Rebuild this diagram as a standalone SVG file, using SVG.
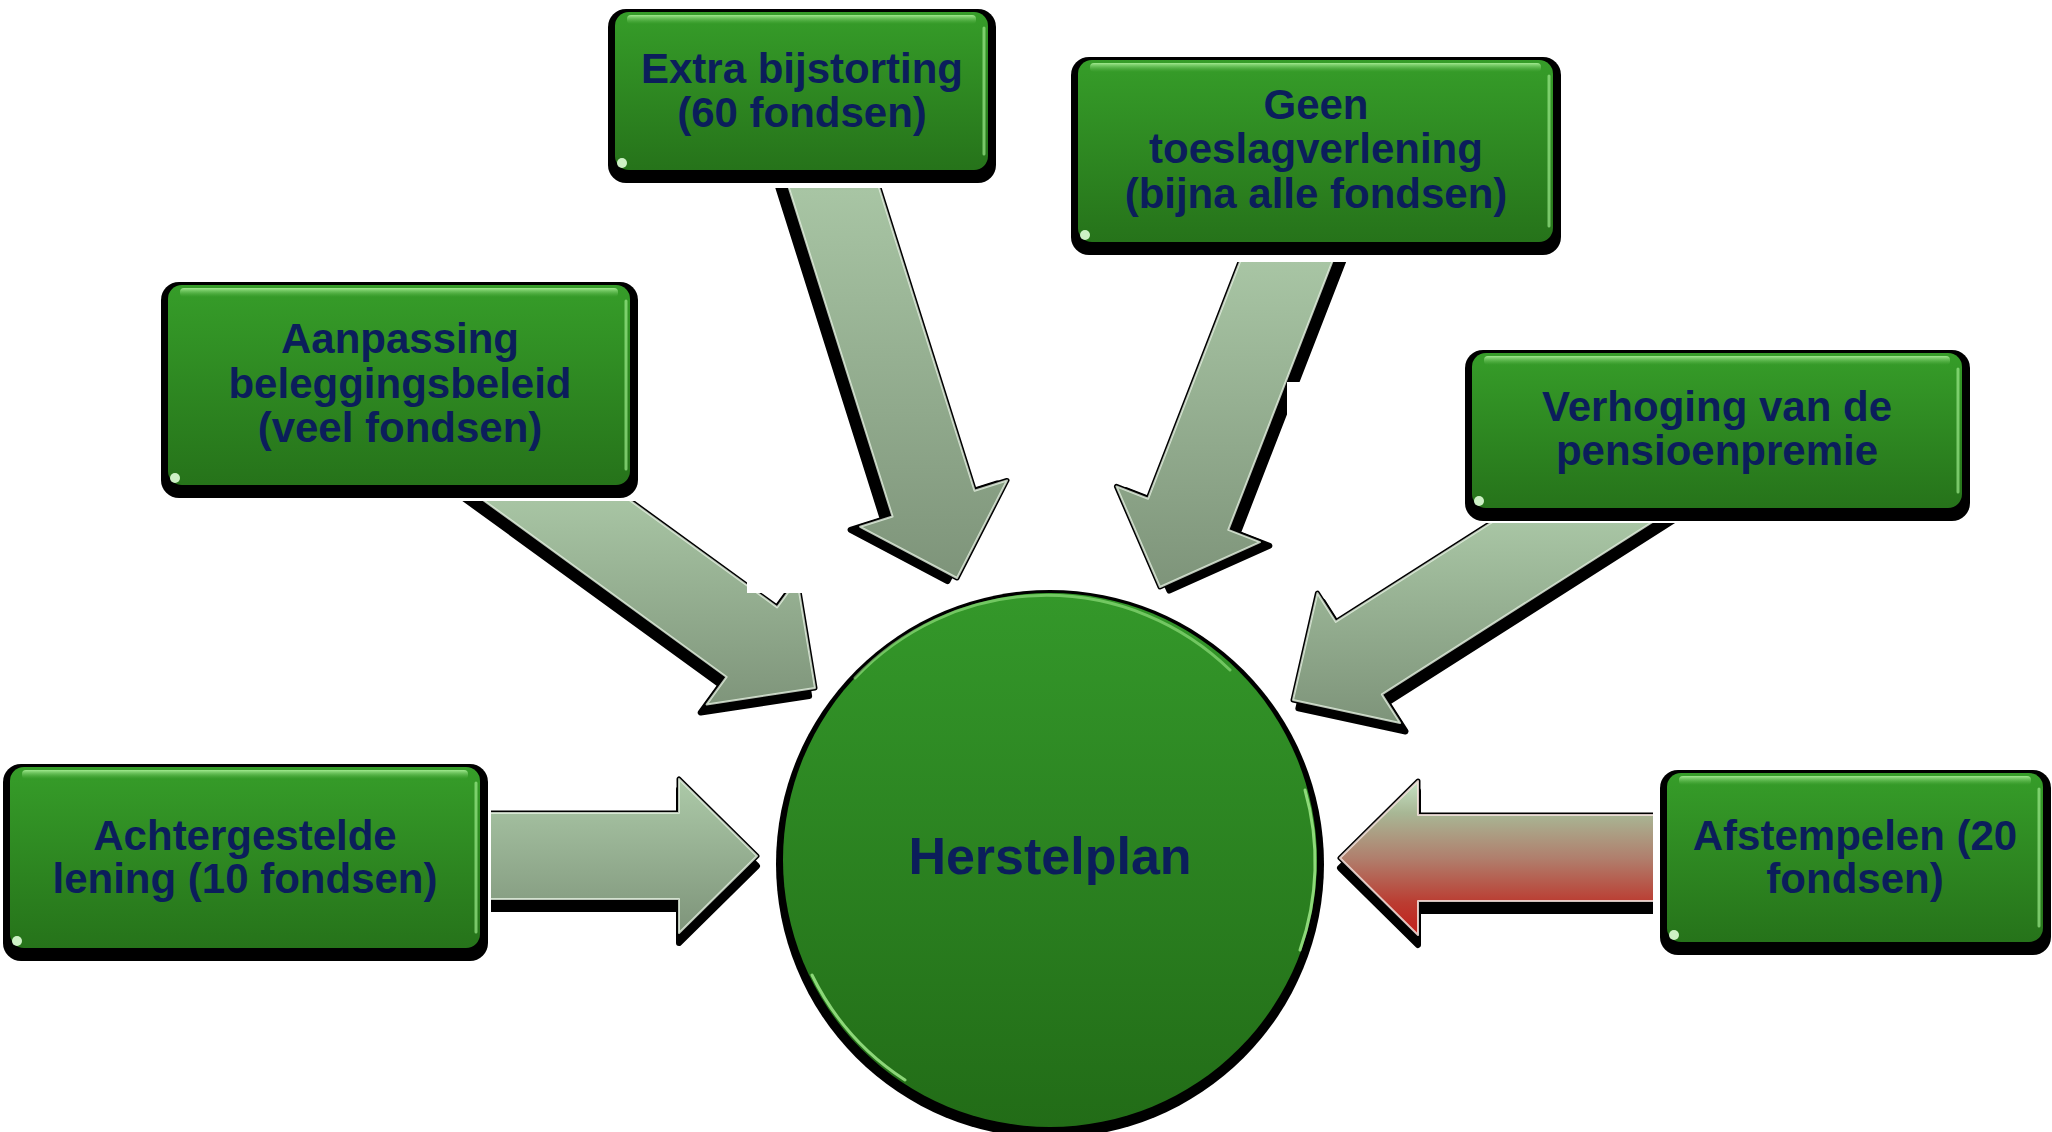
<svg xmlns="http://www.w3.org/2000/svg" width="2052" height="1132" viewBox="0 0 2052 1132">
<style>
.bs{fill:#000}
.bx{fill:url(#gBox)}
.ht{fill:url(#gHi)}
.hr{stroke:#9be88a;stroke-width:3;stroke-linecap:round;opacity:.7;fill:none}
.dot{fill:#e0ffd8;opacity:.9}
.t{font-family:"Liberation Sans",Arial,sans-serif;font-weight:bold;font-size:42px;fill:#0b1e5b;text-anchor:middle}
.big{font-size:52px}
.ash{fill:#000;stroke:#000;stroke-width:6;stroke-linejoin:round}
.ao{fill:#000;stroke:#000;stroke-width:5;stroke-linejoin:round}
.af{stroke:#e6f3e2;stroke-width:2;stroke-opacity:.8;stroke-linejoin:round}
.afr{stroke:#f6e4df;stroke-width:2;stroke-opacity:.85;stroke-linejoin:round}
.rim{fill:none;stroke:#a6f090;stroke-width:3;stroke-linecap:round}
</style>
<defs>
<path id="arr" d="M0,0 L-78,-77 L-78,-43 L-640,-43 L-640,43 L-78,43 L-78,77 Z"/>
<linearGradient id="gBox" x1="0" y1="0" x2="0" y2="1"><stop offset="0" stop-color="#369d29"/><stop offset="1" stop-color="#26731a"/></linearGradient>
<linearGradient id="gCirc" x1="0" y1="0" x2="0" y2="1"><stop offset="0" stop-color="#34982a"/><stop offset="1" stop-color="#226c17"/></linearGradient>
<linearGradient id="gHi" x1="0" y1="0" x2="0" y2="1"><stop offset="0" stop-color="#a6ee94" stop-opacity=".95"/><stop offset="1" stop-color="#5fb84f" stop-opacity="0"/></linearGradient>
<linearGradient id="gA" gradientUnits="userSpaceOnUse" x1="0" y1="-73" x2="0" y2="77"><stop offset="0" stop-color="#abc8a7"/><stop offset="1" stop-color="#7e947a"/></linearGradient>
<linearGradient id="gC" gradientUnits="userSpaceOnUse" x1="0" y1="-190" x2="0" y2="20" gradientTransform="rotate(-36)"><stop offset="0" stop-color="#a8c5a4"/><stop offset="1" stop-color="#7e947a"/></linearGradient>
<linearGradient id="gD" gradientUnits="userSpaceOnUse" x1="0" y1="-390" x2="0" y2="0" gradientTransform="rotate(-72.5)"><stop offset="0" stop-color="#a8c5a4"/><stop offset="1" stop-color="#7e947a"/></linearGradient>
<linearGradient id="gE" gradientUnits="userSpaceOnUse" x1="0" y1="-325" x2="0" y2="0" gradientTransform="rotate(-111.2)"><stop offset="0" stop-color="#a8c5a4"/><stop offset="1" stop-color="#7e947a"/></linearGradient>
<linearGradient id="gF" gradientUnits="userSpaceOnUse" x1="0" y1="-177" x2="0" y2="22" gradientTransform="rotate(-147.5)"><stop offset="0" stop-color="#a8c5a4"/><stop offset="1" stop-color="#7e947a"/></linearGradient>
<linearGradient id="gB" gradientUnits="userSpaceOnUse" x1="0" y1="-75" x2="0" y2="75" gradientTransform="rotate(-180)"><stop offset="0" stop-color="#c4e0c2"/><stop offset=".2" stop-color="#a8b795"/><stop offset=".5" stop-color="#b07f6d"/><stop offset=".8" stop-color="#bb3c31"/><stop offset="1" stop-color="#c2201c"/></linearGradient>
<clipPath id="cA"><rect x="491" y="0" width="600" height="1132"/></clipPath>
<clipPath id="cB"><rect x="1000" y="0" width="653" height="1132"/></clipPath>
<clipPath id="cC"><rect x="0" y="501" width="2052" height="631"/></clipPath>
<clipPath id="cD"><rect x="0" y="188" width="2052" height="944"/></clipPath>
<clipPath id="cE"><rect x="0" y="262" width="2052" height="870"/></clipPath>
<clipPath id="cF"><rect x="0" y="523" width="2052" height="609"/></clipPath>
</defs>
<rect width="2052" height="1132" fill="#fff"/>

<g id="connectors">
  <g id="arrow-achtergestelde" clip-path="url(#cA)">
    <g transform="translate(757,856)">
      <use href="#arr" class="ash" transform="translate(0,10)"/>
      <use href="#arr" class="ao"/>
      <use href="#arr" class="af" fill="url(#gA)"/>
    </g>
  </g>
  <g id="arrow-afstempelen" clip-path="url(#cB)">
    <g transform="translate(1340,858) rotate(180)">
      <use href="#arr" class="ash" transform="translate(0,-10)"/>
      <use href="#arr" class="ao"/>
      <use href="#arr" class="afr" fill="url(#gB)"/>
    </g>
  </g>
  <g id="arrow-aanpassing" clip-path="url(#cC)">
    <g transform="translate(815,688) rotate(36)">
      <use href="#arr" class="ash" transform="translate(0,10)"/>
      <use href="#arr" class="ao"/>
      <use href="#arr" class="af" fill="url(#gC)"/>
    </g>
  </g>
  <rect x="747" y="540" width="70" height="53" fill="#fff"/>
  <g id="arrow-extra" clip-path="url(#cD)">
    <g transform="translate(957,578) rotate(72.5)">
      <use href="#arr" class="ash" transform="translate(0,10)"/>
      <use href="#arr" class="ao"/>
      <use href="#arr" class="af" fill="url(#gD)"/>
    </g>
  </g>
  <g id="arrow-geen" clip-path="url(#cE)">
    <g transform="translate(1160,587) rotate(111.2)">
      <use href="#arr" class="ash" transform="translate(0,-10)"/>
      <use href="#arr" class="ao"/>
      <use href="#arr" class="af" fill="url(#gE)"/>
    </g>
  </g>
  <rect x="1287" y="382" width="30" height="40" fill="#fff"/>
  <g id="arrow-verhoging" clip-path="url(#cF)">
    <g transform="translate(1293,700) rotate(147.5)">
      <use href="#arr" class="ash" transform="translate(0,-10)"/>
      <use href="#arr" class="ao"/>
      <use href="#arr" class="af" fill="url(#gF)"/>
    </g>
  </g>
</g>

<g id="node-herstelplan">
  <circle cx="1050" cy="864" r="274" fill="#000"/>
  <circle cx="1050" cy="860" r="267" fill="url(#gCirc)"/>
  <path class="rim" opacity=".55" d="M855,678 A263,263 0 0 1 1230,670"/>
  <path class="rim" opacity=".8" d="M812,975 A263,263 0 0 0 905,1080"/>
  <path class="rim" opacity=".8" d="M1305,790 A263,263 0 0 1 1300,950"/>
  <text class="t big" x="1050" y="874">Herstelplan</text>
</g>

<g id="node-extra">
  <rect class="bs" x="608" y="9" width="388" height="174" rx="18"/>
  <rect class="bx" x="615" y="12" width="373" height="158" rx="14"/>
  <rect class="ht" x="627" y="15" width="349" height="9" rx="4"/>
  <line class="hr" x1="984" y1="28" x2="984" y2="154"/>
  <circle class="dot" cx="622" cy="163" r="5"/>
  <text class="t" x="802" y="83">Extra bijstorting</text>
  <text class="t" x="802" y="127">(60 fondsen)</text>
</g>

<g id="node-aanpassing">
  <rect class="bs" x="161" y="282" width="477" height="216" rx="18"/>
  <rect class="bx" x="168" y="285" width="462" height="200" rx="14"/>
  <rect class="ht" x="180" y="288" width="438" height="9" rx="4"/>
  <line class="hr" x1="626" y1="301" x2="626" y2="469"/>
  <circle class="dot" cx="175" cy="478" r="5"/>
  <text class="t" x="400" y="353">Aanpassing</text>
  <text class="t" x="400" y="398">beleggingsbeleid</text>
  <text class="t" x="400" y="442">(veel fondsen)</text>
</g>

<g id="node-geen">
  <rect class="bs" x="1071" y="57" width="490" height="198" rx="18"/>
  <rect class="bx" x="1078" y="60" width="475" height="182" rx="14"/>
  <rect class="ht" x="1090" y="63" width="451" height="9" rx="4"/>
  <line class="hr" x1="1549" y1="76" x2="1549" y2="226"/>
  <circle class="dot" cx="1085" cy="235" r="5"/>
  <text class="t" x="1316" y="119">Geen</text>
  <text class="t" x="1316" y="163">toeslagverlening</text>
  <text class="t" x="1316" y="208">(bijna alle fondsen)</text>
</g>

<g id="node-verhoging">
  <rect class="bs" x="1465" y="350" width="505" height="171" rx="18"/>
  <rect class="bx" x="1472" y="353" width="490" height="155" rx="14"/>
  <rect class="ht" x="1484" y="356" width="466" height="9" rx="4"/>
  <line class="hr" x1="1958" y1="369" x2="1958" y2="492"/>
  <circle class="dot" cx="1479" cy="501" r="5"/>
  <text class="t" x="1717" y="421">Verhoging van de</text>
  <text class="t" x="1717" y="465">pensioenpremie</text>
</g>

<g id="node-achtergestelde">
  <rect class="bs" x="3" y="764" width="485" height="197" rx="18"/>
  <rect class="bx" x="10" y="767" width="470" height="181" rx="14"/>
  <rect class="ht" x="22" y="770" width="446" height="9" rx="4"/>
  <line class="hr" x1="476" y1="783" x2="476" y2="932"/>
  <circle class="dot" cx="17" cy="941" r="5"/>
  <text class="t" x="245" y="850">Achtergestelde</text>
  <text class="t" x="245" y="893">lening (10 fondsen)</text>
</g>

<g id="node-afstempelen">
  <rect class="bs" x="1660" y="770" width="391" height="185" rx="18"/>
  <rect class="bx" x="1667" y="773" width="376" height="169" rx="14"/>
  <rect class="ht" x="1679" y="776" width="352" height="9" rx="4"/>
  <line class="hr" x1="2039" y1="789" x2="2039" y2="926"/>
  <circle class="dot" cx="1674" cy="935" r="5"/>
  <text class="t" x="1855" y="850">Afstempelen (20</text>
  <text class="t" x="1855" y="893">fondsen)</text>
</g>
</svg>
